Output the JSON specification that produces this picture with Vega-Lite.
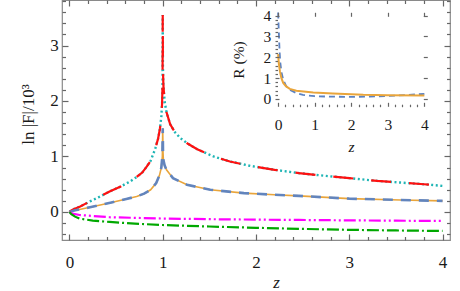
{
  "$schema": "https://vega.github.io/schema/vega-lite/v6.json",
  "width": 388,
  "height": 240,
  "autosize": "none",
  "padding": {"left": 62, "top": 0, "right": 10, "bottom": 51},
  "background": "white",
  "config": {
    "view": {"stroke": "#8a8a8a", "strokeWidth": 1.2},
    "axis": {
      "grid": false, "domain": false, "ticks": true, "tickColor": "#666666", "tickWidth": 1.2,
      "labelFont": "Liberation Serif", "labelFontSize": 17, "labelColor": "#1a1a1a",
      "labelFlush": false, "labelOverlap": false,
      "titleFont": "Liberation Serif", "titleFontSize": 17, "titleFontWeight": "normal", "titleColor": "#1a1a1a"
    }
  },
  "datasets": {
    "upper": [
      {"z": 0, "v": 0}, {"z": 0.02, "v": 0.03}, {"z": 0.05, "v": 0.055}, {"z": 0.11, "v": 0.095},
      {"z": 0.22, "v": 0.19}, {"z": 0.33, "v": 0.28}, {"z": 0.43, "v": 0.37}, {"z": 0.55, "v": 0.46},
      {"z": 0.65, "v": 0.55}, {"z": 0.72, "v": 0.63}, {"z": 0.78, "v": 0.71}, {"z": 0.83, "v": 0.82},
      {"z": 0.87, "v": 0.92}, {"z": 0.92, "v": 1.14}, {"z": 0.95, "v": 1.32}, {"z": 0.97, "v": 1.5},
      {"z": 0.985, "v": 1.72}, {"z": 0.993, "v": 1.95}, {"z": 0.998, "v": 2.3}, {"z": 1.0, "v": 3.55},
      {"z": 1.002, "v": 2.6}, {"z": 1.007, "v": 2.28}, {"z": 1.02, "v": 2.0}, {"z": 1.04, "v": 1.8},
      {"z": 1.08, "v": 1.58}, {"z": 1.13, "v": 1.44}, {"z": 1.19, "v": 1.33}, {"z": 1.27, "v": 1.23},
      {"z": 1.37, "v": 1.13}, {"z": 1.545, "v": 1.0}, {"z": 1.72, "v": 0.91}, {"z": 1.94, "v": 0.83},
      {"z": 2.2, "v": 0.76}, {"z": 2.46, "v": 0.7}, {"z": 2.75, "v": 0.65}, {"z": 3.0, "v": 0.61},
      {"z": 3.3, "v": 0.56}, {"z": 3.55, "v": 0.53}, {"z": 3.8, "v": 0.5}, {"z": 4.0, "v": 0.47}
    ],
    "mid": [
      {"z": 0, "v": 0}, {"z": 0.05, "v": 0.025}, {"z": 0.12, "v": 0.05}, {"z": 0.22, "v": 0.085},
      {"z": 0.33, "v": 0.125}, {"z": 0.45, "v": 0.17}, {"z": 0.61, "v": 0.234}, {"z": 0.72, "v": 0.28},
      {"z": 0.8, "v": 0.33}, {"z": 0.87, "v": 0.4}, {"z": 0.93, "v": 0.52}, {"z": 0.965, "v": 0.66},
      {"z": 0.985, "v": 0.8}, {"z": 0.996, "v": 1.0}, {"z": 1.0, "v": 1.51}, {"z": 1.003, "v": 1.08},
      {"z": 1.007, "v": 0.94}, {"z": 1.02, "v": 0.84}, {"z": 1.04, "v": 0.76}, {"z": 1.11, "v": 0.61},
      {"z": 1.26, "v": 0.49}, {"z": 1.51, "v": 0.4}, {"z": 1.87, "v": 0.34}, {"z": 2.2, "v": 0.31},
      {"z": 2.46, "v": 0.29}, {"z": 3.0, "v": 0.24}, {"z": 3.55, "v": 0.216}, {"z": 4.0, "v": 0.2}
    ],
    "mag": [
      {"z": 0, "v": 0}, {"z": 0.03, "v": -0.03}, {"z": 0.11, "v": -0.054}, {"z": 0.43, "v": -0.095},
      {"z": 1.0, "v": -0.118}, {"z": 1.5, "v": -0.13}, {"z": 2.0, "v": -0.138}, {"z": 2.46, "v": -0.144},
      {"z": 3.0, "v": -0.151}, {"z": 3.5, "v": -0.157}, {"z": 4.0, "v": -0.162}
    ],
    "grn": [
      {"z": 0, "v": 0}, {"z": 0.02, "v": -0.04}, {"z": 0.06, "v": -0.084}, {"z": 0.11, "v": -0.12},
      {"z": 0.25, "v": -0.155}, {"z": 0.43, "v": -0.18}, {"z": 0.7, "v": -0.21}, {"z": 1.0, "v": -0.235},
      {"z": 1.5, "v": -0.262}, {"z": 2.0, "v": -0.285}, {"z": 2.46, "v": -0.304}, {"z": 3.0, "v": -0.322},
      {"z": 3.5, "v": -0.333}, {"z": 4.0, "v": -0.342}
    ],
    "iblue": [
      {"z": 0.0, "v": 4.15}, {"z": 0.02, "v": 3.2}, {"z": 0.04, "v": 2.3}, {"z": 0.06, "v": 1.75},
      {"z": 0.09, "v": 1.3}, {"z": 0.14, "v": 0.92}, {"z": 0.22, "v": 0.62}, {"z": 0.32, "v": 0.44},
      {"z": 0.5, "v": 0.28}, {"z": 0.68, "v": 0.19}, {"z": 1.0, "v": 0.13}, {"z": 1.42, "v": 0.11},
      {"z": 2.0, "v": 0.1}, {"z": 2.5, "v": 0.11}, {"z": 3.0, "v": 0.14}, {"z": 3.5, "v": 0.19}, {"z": 4.0, "v": 0.24}
    ],
    "iorange": [
      {"z": 0.0, "v": 2.15}, {"z": 0.02, "v": 1.7}, {"z": 0.05, "v": 1.32}, {"z": 0.09, "v": 1.0},
      {"z": 0.14, "v": 0.77}, {"z": 0.22, "v": 0.6}, {"z": 0.32, "v": 0.48}, {"z": 0.5, "v": 0.39},
      {"z": 0.96, "v": 0.31}, {"z": 1.5, "v": 0.26}, {"z": 2.33, "v": 0.2}, {"z": 3.0, "v": 0.18}, {"z": 4.0, "v": 0.16}
    ],
    "ilabel": [
      {"z": -0.93, "v": 1.87, "t": "R (%)"}
    ]
  },
  "layer": [
    {
      "data": {"name": "upper"},
      "mark": {"type": "line", "color": "#1FB5B5", "strokeWidth": 2.4, "strokeDash": [2, 2.6], "clip": true},
      "encoding": {
        "x": {"field": "z", "type": "quantitative", "scale": {"domain": [-0.08, 4.08], "nice": false, "zero": false},
          "axis": {"orient": "bottom", "offset": -6, "values": [0, 1, 2, 3, 4], "tickSize": 6, "labelPadding": 14.6,
            "title": "z", "titleFontStyle": "italic", "titleX": 214, "titleY": 53, "titleBaseline": "alphabetic", "titleAlign": "center", "titleAngle": 0}},
        "y": {"field": "v", "type": "quantitative", "scale": {"domain": [-0.505, 3.82], "nice": false, "zero": false},
          "axis": {"orient": "left", "offset": -6, "values": [0, 1, 2, 3], "tickSize": 6, "labelPadding": 3.7,
            "title": "ln |F|/10³", "titleX": -35, "titleY": 114, "titleAngle": 270, "titleAlign": "center", "titleBaseline": "alphabetic"}}
      }
    },
    {
      "data": {"name": "upper"},
      "mark": {"type": "line", "color": "#FF1010", "strokeWidth": 2.2, "strokeDash": [20, 18], "clip": true},
      "encoding": {
        "x": {"field": "z", "type": "quantitative", "scale": {"domain": [-0.08, 4.08], "nice": false, "zero": false},
          "axis": {"orient": "top", "offset": -6, "values": [0, 1, 2, 3, 4], "tickSize": 6, "labels": false, "title": null}},
        "y": {"field": "v", "type": "quantitative", "scale": {"domain": [-0.505, 3.82], "nice": false, "zero": false},
          "axis": {"orient": "right", "offset": -6, "values": [0, 1, 2, 3], "tickSize": 6, "labels": false, "title": null}}
      }
    },
    {
      "data": {"name": "mid"},
      "mark": {"type": "line", "color": "#E9A53B", "strokeWidth": 1.6, "clip": true},
      "encoding": {
        "x": {"field": "z", "type": "quantitative", "scale": {"domain": [-0.08, 4.08], "nice": false, "zero": false},
          "axis": {"orient": "bottom", "offset": -3.5, "values": [0.2, 0.4, 0.6, 0.8, 1.2, 1.4, 1.6, 1.8, 2.2, 2.4, 2.6, 2.8, 3.2, 3.4, 3.6, 3.8], "tickSize": 3.5, "labels": false, "title": null}},
        "y": {"field": "v", "type": "quantitative", "scale": {"domain": [-0.505, 3.82], "nice": false, "zero": false},
          "axis": {"orient": "left", "offset": -3.5, "values": [-0.4, -0.2, 0.2, 0.4, 0.6, 0.8, 1.2, 1.4, 1.6, 1.8, 2.2, 2.4, 2.6, 2.8, 3.2, 3.4, 3.6, 3.8], "tickSize": 3.5, "labels": false, "title": null}}
      }
    },
    {
      "data": {"name": "mid"},
      "mark": {"type": "line", "color": "#5B82C2", "strokeWidth": 2.6, "strokeDash": [10, 8], "opacity": 0.95, "clip": true},
      "encoding": {
        "x": {"field": "z", "type": "quantitative", "scale": {"domain": [-0.08, 4.08], "nice": false, "zero": false},
          "axis": {"orient": "top", "offset": -3.5, "values": [0.2, 0.4, 0.6, 0.8, 1.2, 1.4, 1.6, 1.8, 2.2, 2.4, 2.6, 2.8, 3.2, 3.4, 3.6, 3.8], "tickSize": 3.5, "labels": false, "title": null}},
        "y": {"field": "v", "type": "quantitative", "scale": {"domain": [-0.505, 3.82], "nice": false, "zero": false},
          "axis": {"orient": "right", "offset": -3.5, "values": [-0.4, -0.2, 0.2, 0.4, 0.6, 0.8, 1.2, 1.4, 1.6, 1.8, 2.2, 2.4, 2.6, 2.8, 3.2, 3.4, 3.6, 3.8], "tickSize": 3.5, "labels": false, "title": null}}
      }
    },
    {
      "data": {"name": "mag"},
      "mark": {"type": "line", "color": "#FF00FF", "strokeWidth": 2.2, "strokeDash": [12, 3, 2, 3, 2, 3], "clip": true},
      "encoding": {
        "x": {"field": "z", "type": "quantitative", "scale": {"domain": [-0.08, 4.08], "nice": false, "zero": false}, "axis": null},
        "y": {"field": "v", "type": "quantitative", "scale": {"domain": [-0.505, 3.82], "nice": false, "zero": false}, "axis": null}
      }
    },
    {
      "data": {"name": "grn"},
      "mark": {"type": "line", "color": "#00A800", "strokeWidth": 2.2, "strokeDash": [12, 3, 2, 3], "clip": true},
      "encoding": {
        "x": {"field": "z", "type": "quantitative", "scale": {"domain": [-0.08, 4.08], "nice": false, "zero": false}, "axis": null},
        "y": {"field": "v", "type": "quantitative", "scale": {"domain": [-0.505, 3.82], "nice": false, "zero": false}, "axis": null}
      }
    },
    {
      "mark": {"type": "rect", "fill": "white", "stroke": "#8a8a8a", "strokeWidth": 1.2},
      "encoding": {
        "x": {"datum": -0.085, "type": "quantitative", "scale": {"domain": [-0.085, 4.08], "range": [213, 365.3], "nice": false, "zero": false},
          "axis": {"orient": "bottom", "offset": -135.8, "values": [0.2, 0.4, 0.6, 0.8, 1.2, 1.4, 1.6, 1.8, 2.2, 2.4, 2.6, 2.8, 3.2, 3.4, 3.6, 3.8], "tickSize": 2.5, "labels": false, "title": null, "zindex": 2}},
        "x2": {"datum": 4.08},
        "y": {"datum": -0.354, "type": "quantitative", "scale": {"domain": [-0.354, 4.16], "range": [106.3, 12.3], "nice": false, "zero": false},
          "axis": {"orient": "left", "offset": -215.5, "values": [0.2, 0.4, 0.6, 0.8, 1.2, 1.4, 1.6, 1.8, 2.2, 2.4, 2.6, 2.8, 3.2, 3.4, 3.6, 3.8], "tickSize": 2.5, "labels": false, "title": null, "zindex": 2}},
        "y2": {"datum": 4.16}
      }
    },
    {
      "data": {"name": "iblue"},
      "mark": {"type": "line", "color": "#5B82C2", "strokeWidth": 1.8, "strokeDash": [6, 4]},
      "encoding": {
        "x": {"field": "z", "type": "quantitative", "scale": {"domain": [-0.085, 4.08], "range": [213, 365.3], "nice": false, "zero": false},
          "axis": {"orient": "bottom", "offset": -137.7, "values": [0, 1, 2, 3, 4], "tickSize": 4, "zindex": 2, "labelFontSize": 15.5, "labelPadding": 11,
            "title": "z", "titleFontSize": 15.5, "titleFontStyle": "italic", "titleX": 289, "titleY": 49.5, "titleBaseline": "alphabetic", "titleAlign": "center", "titleAngle": 0}},
        "y": {"field": "v", "type": "quantitative", "scale": {"domain": [-0.354, 4.16], "range": [106.3, 12.3], "nice": false, "zero": false},
          "axis": {"orient": "left", "offset": -217, "values": [0, 1, 2, 3, 4], "tickSize": 4, "zindex": 2, "labelFontSize": 15.5, "labelPadding": 4.3, "title": null}}
      }
    },
    {
      "data": {"name": "iorange"},
      "mark": {"type": "line", "color": "#E9A53B", "strokeWidth": 2},
      "encoding": {
        "x": {"field": "z", "type": "quantitative", "scale": {"domain": [-0.085, 4.08], "range": [213, 365.3], "nice": false, "zero": false},
          "axis": {"orient": "top", "offset": -16.3, "values": [0, 1, 2, 3, 4], "tickSize": 4, "labels": false, "title": null, "zindex": 2}},
        "y": {"field": "v", "type": "quantitative", "scale": {"domain": [-0.354, 4.16], "range": [106.3, 12.3], "nice": false, "zero": false},
          "axis": {"orient": "right", "offset": -26.7, "values": [0, 1, 2, 3, 4], "tickSize": 4, "labels": false, "title": null, "zindex": 2}}
      }
    },
    {
      "data": {"name": "ilabel"},
      "mark": {"type": "text", "angle": 270, "align": "center", "baseline": "alphabetic", "font": "Liberation Serif", "fontSize": 15.5, "color": "#1a1a1a"},
      "encoding": {
        "x": {"field": "z", "type": "quantitative", "scale": {"domain": [-0.085, 4.08], "range": [213, 365.3], "nice": false, "zero": false}, "axis": null},
        "y": {"field": "v", "type": "quantitative", "scale": {"domain": [-0.354, 4.16], "range": [106.3, 12.3], "nice": false, "zero": false}, "axis": null},
        "text": {"field": "t", "type": "nominal"}
      }
    }
  ],
  "resolve": {"scale": {"x": "independent", "y": "independent"}, "axis": {"x": "independent", "y": "independent"}}
}
